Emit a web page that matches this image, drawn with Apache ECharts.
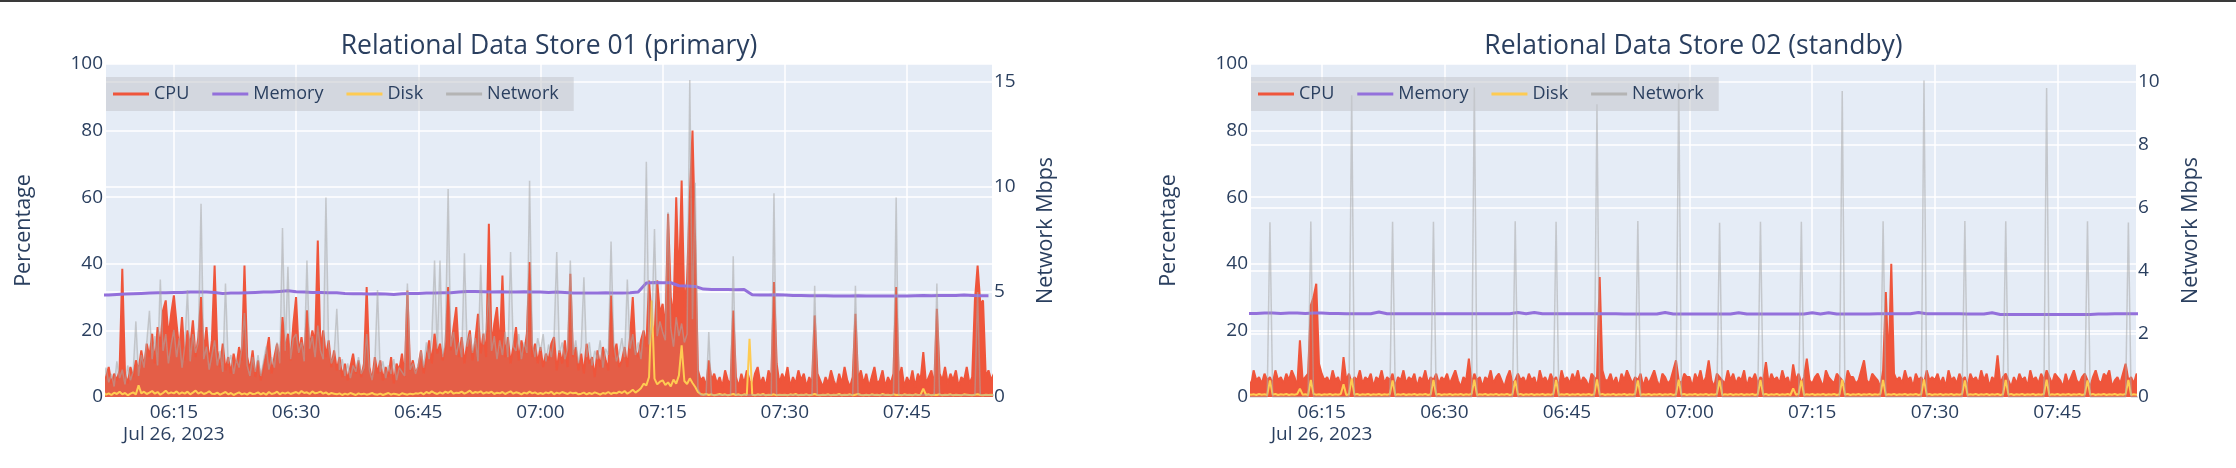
<!DOCTYPE html>
<html><head><meta charset="utf-8">
<script src="https://cdn.jsdelivr.net/npm/echarts@6/dist/echarts.min.js"></script>
<style>html,body{margin:0;padding:0;background:#fff}#c{width:2236px;height:468px}</style>
</head><body><div id="c"></div>
<script>
// ---------- text ----------
const titles = ['Relational Data Store 01 (primary)', 'Relational Data Store 02 (standby)'];
const seriesNames = ['CPU', 'Memory', 'Disk', 'Network'];
const dateLabel = 'Jul 26, 2023';
const firstTickLabel = '06:15';
const leftAxisTitle = 'Percentage';
const rightAxisTitle = 'Network Mbps';

// ---------- time grid ----------
const startTime = Date.UTC(2023, 6, 26, 6, 5, 0);   // first sample 06:05:00
const stepSec = 20;                                  // cpu / disk / network sampling
const memStepSec = 60;                               // memory sampled per minute
const xTickMinutes = 15;
const xRange1 = [Date.UTC(2023, 6, 26, 6, 6, 40), Date.UTC(2023, 6, 26, 7, 55, 26)];
const xRange2 = [Date.UTC(2023, 6, 26, 6, 6, 21), Date.UTC(2023, 6, 26, 7, 54, 36)];
const pctAxis = [0, 100, 20];
const netAxis1 = [0, 15.86, 5];
const netAxis2 = [0, 10.57, 2];

// ---------- Store 01 (primary) ----------  each row = 5 minutes at 20 s steps
const cpu1 = [
 5,6,4, 7,5,6, 9,4,7, 5,8,38.5, 7,4,9,            // 06:05
 6,11,8, 14,9,16, 12,19,10, 21,15,26, 29,18,25,   // 06:10
 30.5,22,14, 24,11,20, 15,23,12, 18,30,13, 21,10,17, // 06:15
 39.5,14,9, 16,8,12, 7,13,9, 15,11,39.5, 12,8,14, // 06:20
 6,11,5, 9,13,18, 7,12,16, 10,24,14, 19,11,22,    // 06:25
 30,13,18, 12,26,15, 20,16,47, 14,20,12, 17,9,14, // 06:30
 8,12,6, 10,5,9, 13,7,11, 6,10,33, 9,5,12,        // 06:35
 7,11,5, 9,6,12, 4,10,8, 13,6,32, 8,11,7,         // 06:40
 9,14,7, 12,17,10, 19,13,16, 11,15,33, 14,21,27,  // 06:45
 12,18,10, 16,20,11, 17,25,13, 19,12,52, 15,22,27, // 06:50
 14,36.5,12, 18,10,15, 21,11,17, 13,19,40.5, 12,16,10, // 06:55
 15,9,13, 11,16,18, 8,14,10, 17,9,37, 12,15,8,    // 07:00
 13,7,16, 10,12,6, 14,9,15, 11,8,30.5, 12,16,9,   // 07:05
 11,15,9, 18,30,14, 12,17,20, 15,35,22, 18,35,25, // 07:10
 28,20,55, 30,24,60, 33,65,27, 35,60,80, 46,8,5,  // 07:15
 6,3,11, 5,7,4, 6,3,8, 5,4,26, 6,3,7,             // 07:20
 4,8,5, 3,7,9, 4,6,3, 8,5,34.5, 10,4,7,           // 07:25
 5,9,3, 6,4,8, 5,7,3, 6,4,24.5, 7,5,3,            // 07:30
 6,4,8, 5,3,7, 4,9,5, 3,6,25, 5,8,4,              // 07:35
 7,3,6, 9,4,5, 8,3,6, 4,7,33, 5,9,3,              // 07:40
 6,4,8, 3,7,5, 13.5,4,6, 8,3,26.5, 7,5,9,         // 07:45
 4,7,5, 8,3,6, 5,9,4, 6,29,39.5, 28,29,6,         // 07:50
 8,5,7                                            // 07:55
];
const net1 = [
 0.8,1.2,0.5, 1.0,0.6,1.4, 0.7,1.1,0.5, 1.7,0.9,1.3, 0.6,1.5,0.8,   // 06:05
 1.2,3.6,1.0, 2.0,1.4,2.6, 4.1,1.8,2.9, 1.5,5.6,2.2, 3.0,1.6,2.5,   // 06:10
 3.2,1.9,2.8, 1.4,2.4,5.1, 1.7,3.0,2.1, 2.6,9.2,1.8, 2.4,1.3,2.0,   // 06:15
 2.7,1.5,2.2, 1.2,5.4,1.6, 2.0,1.1,1.8, 1.4,2.3,4.0, 1.5,1.0,1.9,   // 06:20
 1.2,2.0,1.0, 1.7,2.4,1.3, 1.9,1.4,2.6, 1.6,8.05,2.2, 6.2,1.8,2.8,  // 06:25
 3.0,2.1,2.6, 1.7,6.5,2.3, 2.9,1.9,3.4, 2.2,1.8,9.5, 2.4,1.6,2.0,   // 06:30
 4.2,1.3,1.8, 1.0,1.6,0.9, 1.5,1.2,1.9, 1.1,1.4,3.0, 1.3,0.8,1.6,   // 06:35
 5.1,1.2,1.7, 0.9,1.5,1.1, 1.8,0.8,1.4, 1.2,1.0,5.4, 1.3,1.6,1.1,   // 06:40
 1.5,2.2,1.4, 2.6,1.8,2.9, 6.5,2.3,6.5, 1.9,2.7,9.9, 2.4,3.1,2.0,   // 06:45
 2.6,1.9,6.85, 2.4,3.0,2.1, 2.8,1.7,6.3, 2.5,3.2,5.0, 2.2,2.9,1.8,  // 06:50
 2.7,2.0,3.1, 1.9,6.9,2.4, 2.2,3.0,1.8, 2.6,2.1,10.3, 2.5,1.9,2.8,  // 06:55
 2.2,3.0,1.7, 2.5,1.9,2.8, 6.9,2.1,2.6, 1.8,2.3,6.5, 2.0,2.7,1.6,   // 07:00
 2.4,5.7,1.9, 2.6,1.5,2.2, 1.8,2.7,1.4, 2.3,2.0,7.4, 2.5,1.7,2.1,   // 07:05
 2.8,1.9,5.6, 2.3,3.0,2.0, 2.6,1.8,3.2, 11.2,2.5,3.4, 8.0,2.9,3.6,  // 07:10
 3.1,2.7,8.8, 3.3,2.4,3.8, 2.9,3.5,2.6, 3.0,15.1,3.7, 10.2,0.4,0.1, // 07:15
 0.1,0.1,3.1, 0.1,0.1,0.1, 0.1,0.1,0.1, 0.1,0.1,6.7, 0.1,0.1,0.1,   // 07:20
 0.1,0.1,0.1, 0.1,0.1,0.1, 0.1,0.1,0.1, 0.1,0.1,9.7, 0.1,0.1,0.1,   // 07:25
 0.1,0.1,0.1, 0.1,0.1,0.1, 0.1,0.1,0.1, 0.1,0.1,5.3, 0.1,0.1,0.1,   // 07:30
 0.1,0.1,0.1, 0.1,0.1,0.1, 0.1,0.1,0.1, 0.1,0.1,5.3, 0.1,0.1,0.1,   // 07:35
 0.1,0.1,0.1, 0.1,0.1,0.1, 0.1,0.1,0.1, 0.1,0.1,9.5, 0.1,0.1,0.1,   // 07:40
 0.1,0.1,0.1, 0.1,0.1,0.1, 0.1,0.1,0.1, 0.1,0.1,5.4, 0.1,0.1,0.1,   // 07:45
 0.1,0.1,0.1, 0.1,0.1,0.1, 0.1,0.1,0.1, 0.1,0.1,5.0, 0.1,0.1,0.1,   // 07:50
 0.1,0.1,0.1                                                       // 07:55
];
const disk1 = [
 0.8,1.2,0.6, 1.0,1.5,0.7, 1.1,0.6,1.3, 0.9,1.6,0.8, 1.2,0.5,1.0,   // 06:05
 1.4,0.8,3.5, 1.1,1.6,0.9, 1.3,1.8,1.0, 1.5,0.7,1.2, 1.9,1.0,1.4,   // 06:10
 1.1,1.7,0.9, 1.4,1.0,1.6, 0.8,1.3,1.9, 1.0,1.5,0.9, 1.2,1.7,1.0,   // 06:15
 0.9,1.3,0.7, 1.1,1.5,0.8, 1.2,0.6,1.0, 1.4,0.8,1.1, 0.7,1.3,0.9,   // 06:20
 1.0,1.4,0.8, 1.2,0.7,1.5, 0.9,1.1,1.6, 0.8,1.3,1.0, 1.4,0.9,1.2,   // 06:25
 1.5,1.0,1.8, 1.2,1.4,0.9, 1.7,1.1,1.3, 1.6,1.0,1.4, 0.8,1.2,1.0,   // 06:30
 0.8,1.1,0.6, 1.0,0.7,1.2, 0.9,0.6,1.1, 0.8,1.0,0.7, 0.9,1.2,0.8,   // 06:35
 0.7,1.0,0.6, 0.9,1.2,0.7, 1.0,0.8,0.6, 1.1,0.9,0.7, 1.0,0.8,1.1,   // 06:40
 1.0,1.3,0.8, 1.5,1.1,1.7, 1.2,0.9,1.4, 1.0,1.6,1.2, 1.8,1.0,1.3,   // 06:45
 1.2,1.6,1.0, 1.4,1.9,1.1, 1.5,1.3,1.7, 1.0,1.4,1.2, 1.6,0.9,1.3,   // 06:50
 1.1,1.5,0.9, 1.3,1.7,1.0, 1.4,1.2,0.8, 1.3,1.0,1.6, 1.1,1.4,0.9,   // 06:55
 1.2,0.9,1.4, 1.1,1.6,0.8, 1.3,1.0,1.5, 1.2,0.9,1.4, 1.1,1.3,0.8,   // 07:00
 1.0,1.3,0.8, 1.2,0.9,1.4, 1.1,0.7,1.2, 1.0,1.5,0.9, 1.3,1.1,1.6,   // 07:05
 1.2,1.8,1.0, 1.5,2.2,1.3, 1.9,2.6,4.0, 3.5,6.0,29, 5.5,3.8,4.6,    // 07:10
 5.0,3.6,4.4, 3.2,5.2,4.0, 6.5,15.5,4.8, 3.9,5.6,4.2, 3.0,1.5,0.9,  // 07:15
 0.7,0.9,0.6, 0.8,0.5,0.7, 0.9,0.6,0.8, 0.5,0.7,0.9, 0.6,0.8,0.5,   // 07:20
 0.8,0.6,17.5, 0.7,0.5,0.8, 0.6,0.9,0.5, 0.7,0.6,0.8, 0.5,0.7,0.6,  // 07:25
 0.7,0.5,0.8, 0.6,0.9,0.5, 0.7,0.6,0.8, 0.5,0.7,0.9, 0.6,0.5,0.7,   // 07:30
 0.6,0.8,0.5, 0.7,0.6,0.9, 0.5,0.7,0.6, 0.8,0.5,0.7, 0.9,0.6,0.5,   // 07:35
 0.7,0.5,0.8, 0.6,0.7,0.5, 0.9,0.6,0.7, 0.5,0.8,0.6, 0.7,0.5,0.8,   // 07:40
 0.6,0.7,0.5, 0.8,0.6,0.7, 2.5,0.6,0.8, 0.5,0.7,0.6, 0.8,0.5,0.7,   // 07:45
 0.6,0.8,0.5, 0.7,0.6,0.5, 0.8,0.7,0.6, 0.5,0.7,0.8, 0.6,0.5,0.7,   // 07:50
 0.6,0.7,0.5                                                       // 07:55
];
const mem1 = [  // one value per minute from 06:05
 30.5,30.6,30.6,30.8,30.9,31.0,31.1,31.2,31.3,31.3,   // 06:05
 31.4,31.4,31.5,31.5,31.5,31.4,31.1,31.2,31.2,31.3,   // 06:15
 31.4,31.5,31.5,31.7,31.9,31.6,31.5,31.4,31.4,31.3,   // 06:25
 31.3,31.1,31.0,31.0,30.9,31.0,30.9,30.8,31.0,31.1,   // 06:35
 31.1,31.2,31.2,31.3,31.3,31.5,31.7,31.7,31.6,31.5,   // 06:45
 31.6,31.5,31.5,31.6,31.5,31.5,31.4,31.5,31.4,31.2,   // 06:55
 31.2,31.2,31.2,31.3,31.2,31.2,31.3,31.5,34.2,34.4,   // 07:05
 34.3,34.3,33.4,33.3,33.2,32.4,32.3,32.3,32.3,32.2,   // 07:15
 32.3,30.7,30.6,30.6,30.7,30.6,30.5,30.5,30.4,30.4,   // 07:25
 30.4,30.3,30.3,30.3,30.4,30.3,30.3,30.3,30.3,30.3,   // 07:35
 30.3,30.4,30.5,30.4,30.5,30.5,30.5,30.6,30.5,30.4,   // 07:45
 30.4                                                 // 07:55
];

// ---------- Store 02 (standby) ----------
const cpu2 = [
 5,7,4, 6,3,8, 5,6,4, 7,5,6, 4,8,5,           // 06:05
 6,4,7, 5,8,6, 3,17,5, 6,7,27.5, 30,34,10,    // 06:10
 7,5,6, 4,8,5, 6,3,12, 5,7,4, 6,5,8,          // 06:15
 4,6,5, 7,3,6, 5,8,4, 6,5,7, 3,6,5,           // 06:20
 8,4,6, 5,7,3, 6,5,8, 4,6,5, 7,4,6,           // 06:25
 5,7,4, 6,8,5, 3,6,5, 11.5,4,7, 5,6,3,        // 06:30
 6,5,8, 4,6,7, 5,3,6, 8,4,5, 7,5,6,           // 06:35
 4,7,5, 6,3,8, 5,6,4, 7,5,6, 3,8,5,           // 06:40
 6,4,7, 5,8,4, 6,5,3, 7,6,5, 36,8,5,          // 06:45
 5,7,4, 6,3,7, 5,8,6, 4,6,5, 7,3,6,           // 06:50
 4,6,8, 5,3,7, 6,4,5, 8,11,5, 4,7,6,          // 06:55
 6,3,7, 5,8,4, 6,11,5, 3,7,6, 5,4,8,          // 07:00
 5,7,4, 6,5,8, 3,6,5, 7,4,6, 5,10.5,4,        // 07:05
 7,5,6, 4,8,5, 6,3,9.8, 5,7,4, 6,11.5,5,      // 07:10
 4,6,7, 5,3,8, 6,5,4, 7,6,5, 3,8,6,           // 07:15
 6,4,5, 8,11,5, 4,7,6, 5,3,8, 31.5,9,40,      // 07:20
 7,5,6, 4,8,5, 6,3,7, 5,6,4, 8,5,6,           // 07:25
 5,7,4, 6,3,8, 5,6,4, 7,5,6, 3,7,5,           // 07:30
 6,4,8, 5,7,3, 6,5,12.5, 4,6,7, 5,3,6,        // 07:35
 4,7,5, 6,3,8, 5,6,4, 7,5,8, 6,4,7,           // 07:40
 6,5,3, 7,4,6, 8,5,4, 6,7,5, 3,6,8,           // 07:45
 5,4,7, 6,8,3, 5,6,4, 7,10,5, 6,4,7,          // 07:50
 5,6,4                                        // 07:55
];
const net2 = [
 0,0,0, 0,0,0, 0,0,0, 0,0,5.55, 0,0,0,   // 06:05
 0,0,0, 0,0,0, 0,0,0, 0,0,5.57, 0,0,0,   // 06:10
 0,0,0, 0,0,0, 0,0,0, 0,0,9.58, 0,0,0,   // 06:15
 0,0,0, 0,0,0, 0,0,0, 0,0,5.56, 0,0,0,   // 06:20
 0,0,0, 0,0,0, 0,0,0, 0,0,5.56, 0,0,0,   // 06:25
 0,0,0, 0,0,0, 0,0,0, 0,0,9.82, 0,0,0,   // 06:30
 0,0,0, 0,0,0, 0,0,0, 0,0,5.58, 0,0,0,   // 06:35
 0,0,0, 0,0,0, 0,0,0, 0,0,5.56, 0,0,0,   // 06:40
 0,0,0, 0,0,0, 0,0,0, 0,0,9.29, 0,0,0,   // 06:45
 0,0,0, 0,0,0, 0,0,0, 0,0,5.59, 0,0,0,   // 06:50
 0,0,0, 0,0,0, 0,0,0, 0,0,9.95, 0,0,0,   // 06:55
 0,0,0, 0,0,0, 0,0,0, 0,0,5.53, 0,0,0,   // 07:00
 0,0,0, 0,0,0, 0,0,0, 0,0,5.56, 0,0,0,   // 07:05
 0,0,0, 0,0,0, 0,0,0, 0,0,5.56, 0,0,0,   // 07:10
 0,0,0, 0,0,0, 0,0,0, 0,0,9.71, 0,0,0,   // 07:15
 0,0,0, 0,0,0, 0,0,0, 0,0,5.58, 0,0,0,   // 07:20
 0,0,0, 0,0,0, 0,0,0, 0,0,10.05, 0,0,0,  // 07:25
 0,0,0, 0,0,0, 0,0,0, 0,0,5.59, 0,0,0,   // 07:30
 0,0,0, 0,0,0, 0,0,0, 0,0,5.58, 0,0,0,   // 07:35
 0,0,0, 0,0,0, 0,0,0, 0,0,9.81, 0,0,0,   // 07:40
 0,0,0, 0,0,0, 0,0,0, 0,0,5.58, 0,0,0,   // 07:45
 0,0,0, 0,0,0, 0,0,0, 0,0,5.54, 0,0,0,   // 07:50
 0,0,0                                   // 07:55
];
const disk2 = [
 0.7,0.8,0.6, 0.9,0.7,0.8, 0.6,0.9,0.7, 0.8,0.6,5.0, 0.7,0.9,0.6,  // 06:05
 0.8,0.7,0.9, 0.6,0.8,0.7, 0.9,2.5,0.7, 0.8,0.6,5.1, 0.9,0.7,0.8,  // 06:10
 0.6,0.8,0.7, 0.9,0.6,0.8, 0.7,0.9,3.8, 0.6,0.8,5.5, 0.7,0.9,0.6,  // 06:15
 0.8,0.7,0.9, 0.6,0.8,0.7, 0.9,0.6,0.8, 0.7,0.9,5.0, 0.6,0.8,0.7,  // 06:20
 0.9,0.6,0.8, 0.7,0.9,0.6, 0.8,0.7,0.9, 0.6,0.8,5.1, 0.7,0.9,0.6,  // 06:25
 0.8,0.7,0.9, 0.6,0.8,0.7, 0.9,0.6,0.8, 0.7,0.9,5.2, 0.6,0.8,0.7,  // 06:30
 0.9,0.6,0.8, 0.7,0.9,0.6, 0.8,0.7,0.9, 0.6,0.8,5.0, 0.7,0.9,0.6,  // 06:35
 0.8,0.7,0.9, 0.6,0.8,0.7, 0.9,0.6,0.8, 0.7,0.9,5.1, 0.6,0.8,0.7,  // 06:40
 0.9,0.6,0.8, 0.7,0.9,0.6, 0.8,0.7,0.9, 0.6,0.8,5.3, 0.7,0.9,0.6,  // 06:45
 0.8,0.7,0.9, 0.6,0.8,0.7, 0.9,0.6,0.8, 0.7,0.9,5.0, 0.6,0.8,0.7,  // 06:50
 0.9,0.6,0.8, 0.7,0.9,0.6, 0.8,0.7,0.9, 0.6,0.8,5.2, 0.7,0.9,0.6,  // 06:55
 0.8,0.7,0.9, 0.6,0.8,0.7, 0.9,0.6,0.8, 0.7,0.9,5.0, 0.6,0.8,0.7,  // 07:00
 0.9,0.6,0.8, 0.7,0.9,0.6, 0.8,0.7,0.9, 0.6,0.8,5.1, 0.7,0.9,0.6,  // 07:05
 0.8,0.7,0.9, 0.6,0.8,0.7, 0.9,0.6,2.6, 0.7,0.9,5.0, 0.6,0.8,0.7,  // 07:10
 0.9,0.6,0.8, 0.7,0.9,0.6, 0.8,0.7,0.9, 0.6,0.8,5.2, 0.7,0.9,0.6,  // 07:15
 0.8,0.7,0.9, 0.6,0.8,0.7, 0.9,0.6,0.8, 0.7,0.9,5.1, 0.6,0.8,0.7,  // 07:20
 0.9,0.6,0.8, 0.7,0.9,0.6, 0.8,0.7,0.9, 0.6,0.8,5.3, 0.7,0.9,0.6,  // 07:25
 0.8,0.7,0.9, 0.6,0.8,0.7, 0.9,0.6,0.8, 0.7,0.9,5.0, 0.6,0.8,0.7,  // 07:30
 0.9,0.6,0.8, 0.7,0.9,0.6, 0.8,0.7,0.9, 0.6,0.8,5.1, 0.7,0.9,0.6,  // 07:35
 0.8,0.7,0.9, 0.6,0.8,0.7, 0.9,0.6,0.8, 0.7,0.9,5.2, 0.6,0.8,0.7,  // 07:40
 0.9,0.6,0.8, 0.7,0.9,0.6, 0.8,0.7,0.9, 0.6,0.8,5.0, 0.7,0.9,0.6,  // 07:45
 0.8,0.7,0.9, 0.6,0.8,0.7, 0.9,0.6,0.8, 0.7,0.9,5.1, 0.6,0.8,0.7,  // 07:50
 0.8,0.7,0.9                                                      // 07:55
];
const mem2 = [  // one value per minute from 06:05
 25.1,25.1,25.1,25.2,25.2,25.1,25.2,25.2,25.1,25.2,   // 06:05
 25.2,25.1,25.1,25.0,25.0,25.0,25.0,25.5,25.0,25.0,   // 06:15
 25.0,25.0,25.0,25.0,25.0,25.0,25.0,25.0,25.0,25.0,   // 06:25
 25.0,25.0,25.0,25.0,25.4,25.0,25.4,25.0,25.0,25.0,   // 06:35
 25.0,25.0,25.0,25.0,25.0,25.0,25.0,24.9,24.9,24.9,   // 06:45
 24.9,24.9,25.4,24.9,24.9,24.9,24.9,24.9,24.9,24.9,   // 06:55
 24.9,25.3,24.9,24.9,24.9,24.9,24.9,24.9,24.9,24.9,   // 07:05
 25.3,24.9,25.3,24.9,24.9,24.9,24.9,24.9,25.0,25.0,   // 07:15
 25.0,25.0,25.0,25.4,25.0,25.0,25.0,25.0,25.0,24.9,   // 07:25
 24.9,24.9,25.3,24.8,24.8,24.8,24.8,24.8,24.8,24.8,   // 07:35
 24.8,24.8,24.8,24.8,24.8,24.9,24.9,25.0,25.0,25.0,   // 07:45
 25.0                                                 // 07:55
];

// ---------- styling ----------
const FONT = '"Open Sans", verdana, arial, sans-serif';
const INK = '#2a3f5f';
const colors = { CPU: '#EF553B', Memory: '#9370DB', Disk: '#FECB52', Network: 'rgba(170,170,170,0.55)' };

function pairs(arr, step) { return arr.map((v, i) => [startTime + i * step * 1000, v]); }
function pad(n) { return String(n).padStart(2, '0'); }
function timeFmt(v) {
  const d = new Date(v);
  const s = pad(d.getUTCHours()) + ':' + pad(d.getUTCMinutes());
  return s === firstTickLabel ? s + '\n' + dateLabel : s;
}

const grids = [
  { left: 106, top: 64, width: 886, height: 333 },
  { left: 1251, top: 64, width: 885, height: 333 }
];
const xRanges = [xRange1, xRange2];
const netAxes = [netAxis1, netAxis2];
const data = [
  { cpu: cpu1, mem: mem1, disk: disk1, net: net1, netArea: 0.13 },
  { cpu: cpu2, mem: mem2, disk: disk2, net: net2, netArea: 0 }
];
const tickMs = xTickMinutes * 60 * 1000;

const option = {
  animation: false,
  backgroundColor: '#fff',
  textStyle: { fontFamily: FONT },
  graphic: [{ type: 'rect', shape: { x: 0, y: 0, width: 2236, height: 2 }, style: { fill: '#3a3a3a' } }],
  title: titles.map((t, k) => ({
    text: t, left: grids[k].left + grids[k].width / 2, top: 33, textAlign: 'center', padding: 0,
    textStyle: { fontFamily: FONT, fontSize: 26.5, fontWeight: 'normal', color: INK }
  })),
  legend: grids.map(g => ({
    data: seriesNames, left: g.left, top: 77, orient: 'horizontal',
    icon: 'rect', itemWidth: 36, itemHeight: 3, itemGap: 23,
    padding: [8, 15, 8, 7], backgroundColor: 'rgba(196,198,204,0.55)', borderRadius: 0,
    textStyle: { fontFamily: FONT, fontSize: 18, color: INK }
  })),
  grid: grids.map(g => Object.assign({ show: true, backgroundColor: '#E5ECF6', borderWidth: 0, containLabel: false }, g)),
  xAxis: grids.map((g, k) => ({
    type: 'value', gridIndex: k, min: xRanges[k][0], max: xRanges[k][1],
    minInterval: tickMs, maxInterval: tickMs, splitNumber: 7,
    axisLine: { show: false }, axisTick: { show: false },
    splitLine: { show: true, showMinLine: false, showMaxLine: false, lineStyle: { color: '#fff', width: 1.5 } },
    axisLabel: { formatter: timeFmt, showMinLabel: false, showMaxLabel: false, color: INK,
      fontFamily: FONT, fontSize: 19, margin: 5, lineHeight: 22, hideOverlap: false }
  })),
  yAxis: [].concat(...grids.map((g, k) => [
    { type: 'value', gridIndex: k, min: pctAxis[0], max: pctAxis[1], interval: pctAxis[2], position: 'left',
      name: leftAxisTitle, nameLocation: 'middle', nameGap: 71, nameRotate: 90,
      nameTextStyle: { fontFamily: FONT, fontSize: 21.5, color: INK },
      axisLine: { show: false }, axisTick: { show: false },
      splitLine: { show: true, lineStyle: { color: '#fff', width: 1.5 } },
      axisLabel: { color: INK, fontFamily: FONT, fontSize: 19, margin: 3 } },
    { type: 'value', gridIndex: k, min: netAxes[k][0], max: netAxes[k][1], interval: netAxes[k][2], position: 'right',
      name: rightAxisTitle, nameLocation: 'middle', nameGap: k === 0 ? 43 : 44, nameRotate: 90,
      nameTextStyle: { fontFamily: FONT, fontSize: 21.5, color: INK },
      axisLine: { show: false }, axisTick: { show: false },
      splitLine: { show: true, showMaxLine: false, lineStyle: { color: '#fff', width: 1.5 } },
      axisLabel: { color: INK, fontFamily: FONT, fontSize: 19, margin: 2, showMaxLabel: false } }
  ])),
  series: [].concat(...data.map((d, k) => [
    { name: 'CPU', type: 'line', xAxisIndex: k, yAxisIndex: 2 * k, data: pairs(d.cpu, stepSec),
      showSymbol: false, lineStyle: { color: colors.CPU, width: 2 }, itemStyle: { color: colors.CPU },
      areaStyle: { color: colors.CPU, opacity: 1 } },
    { name: 'Memory', type: 'line', xAxisIndex: k, yAxisIndex: 2 * k, data: pairs(d.mem, memStepSec),
      showSymbol: false, lineStyle: { color: colors.Memory, width: 3 }, itemStyle: { color: colors.Memory } },
    { name: 'Disk', type: 'line', xAxisIndex: k, yAxisIndex: 2 * k, data: pairs(d.disk, stepSec),
      showSymbol: false, lineStyle: { color: colors.Disk, width: 2 }, itemStyle: { color: colors.Disk } },
    { name: 'Network', type: 'line', xAxisIndex: k, yAxisIndex: 2 * k + 1, data: pairs(d.net, stepSec),
      showSymbol: false, lineStyle: { color: colors.Network, width: 1.5 }, itemStyle: { color: '#b4b4b4' },
      areaStyle: d.netArea ? { color: '#9a9a9a', opacity: d.netArea } : undefined }
  ]))
};

const chart = echarts.init(document.getElementById('c'), null, { renderer: 'canvas' });
chart.setOption(option);
</script>
</body></html>
